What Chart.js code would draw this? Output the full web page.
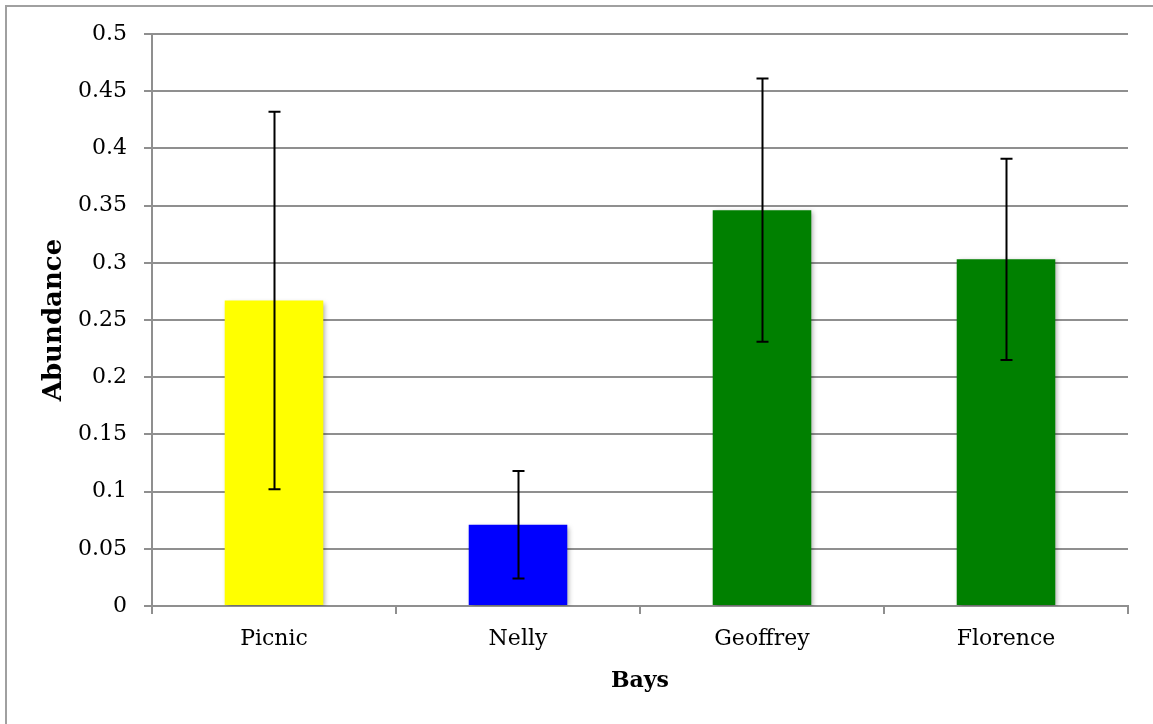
<!DOCTYPE html>
<html>
<head>
<meta charset="utf-8">
<script src="https://cdn.jsdelivr.net/npm/chart.js@4.4.1/dist/chart.umd.min.js"></script>
<style>
  html, body { margin: 0; padding: 0; background: #fff; overflow: hidden; }
  #wrap { position: relative; width: 1153px; height: 724px; }
  #frame { position: absolute; left: 5px; top: 5px; width: 1200px; height: 800px;
           border-left: 2px solid #a0a0a0; border-top: 2px solid #a0a0a0; }
  canvas { position: absolute; left: 0; top: 0; }
</style>
</head>
<body>
<div id="wrap">
  <div id="frame"></div>
  <canvas id="bays" width="1153" height="724"></canvas>
</div>
<script>
const bays = ['Picnic', 'Nelly', 'Geoffrey', 'Florence'];
const abundance = [0.267, 0.071, 0.346, 0.303];
const abundanceErr = [0.165, 0.047, 0.115, 0.088];
const barColours = ['#ffff00', '#0000ff', '#008000', '#008000'];

const serif = '"DejaVu Serif", "Liberation Serif", serif';
const gridGrey = '#8f8f8f';

// soft drop shadow under the bars
const barShadow = {
  id: 'barShadow',
  beforeDatasetsDraw(chart) {
    const ctx = chart.ctx;
    ctx.save();
    ctx.shadowColor = 'rgba(0,0,0,0.35)';
    ctx.shadowBlur = 5;
    ctx.shadowOffsetX = 2;
    ctx.shadowOffsetY = 2;
  },
  afterDatasetsDraw(chart) {
    chart.ctx.restore();
  }
};

// +/- error whiskers with flat caps
const errorBars = {
  id: 'errorBars',
  afterDatasetsDraw(chart) {
    const ctx = chart.ctx;
    const y = chart.scales.y;
    const meta = chart.getDatasetMeta(0);
    ctx.save();
    ctx.strokeStyle = '#000';
    ctx.lineWidth = 2;
    meta.data.forEach((bar, i) => {
      const x = Math.round(bar.x) + 0.5;
      const hi = y.getPixelForValue(abundance[i] + abundanceErr[i]);
      const lo = y.getPixelForValue(abundance[i] - abundanceErr[i]);
      ctx.beginPath();
      ctx.moveTo(x, hi);
      ctx.lineTo(x, lo);
      ctx.moveTo(x - 6, hi);
      ctx.lineTo(x + 6, hi);
      ctx.moveTo(x - 6, lo);
      ctx.lineTo(x + 6, lo);
      ctx.stroke();
    });
    ctx.restore();
  }
};

new Chart(document.getElementById('bays'), {
  type: 'bar',
  data: {
    labels: bays,
    datasets: [{
      data: abundance,
      backgroundColor: barColours,
      borderWidth: 0,
      categoryPercentage: 1,
      barPercentage: 0.404
    }]
  },
  options: {
    responsive: false,
    animation: false,
    events: [],
    layout: { padding: { top: 34, right: 25, left: 0, bottom: 0 } },
    plugins: { legend: { display: false }, tooltip: { enabled: false } },
    scales: {
      x: {
        afterFit(scale) { scale.height = 118; },
        grid: { display: true, drawOnChartArea: false, drawTicks: true, tickLength: 8, color: gridGrey, lineWidth: 2, offset: true },
        border: { color: gridGrey, width: 2 },
        ticks: { color: '#000', padding: 12, font: { family: serif, size: 22 } },
        title: { display: true, text: 'Bays', color: '#000', padding: { top: 0, bottom: 30 }, font: { family: serif, size: 22, weight: 'bold' } }
      },
      y: {
        min: 0,
        max: 0.5,
        afterFit(scale) { scale.width = 152; },
        grid: { color: gridGrey, lineWidth: 2, tickLength: 8 },
        border: { color: gridGrey, width: 2 },
        ticks: {
          stepSize: 0.05,
          color: '#000',
          padding: 17,
          font: { family: serif, size: 22 },
          callback: v => String(Number(v.toFixed(2)))
        },
        title: { display: true, text: 'Abundance', color: '#000', padding: { top: 39, bottom: 0 }, font: { family: serif, size: 26, weight: 'bold' } }
      }
    }
  },
  plugins: [barShadow, errorBars]
});
</script>
</body>
</html>
